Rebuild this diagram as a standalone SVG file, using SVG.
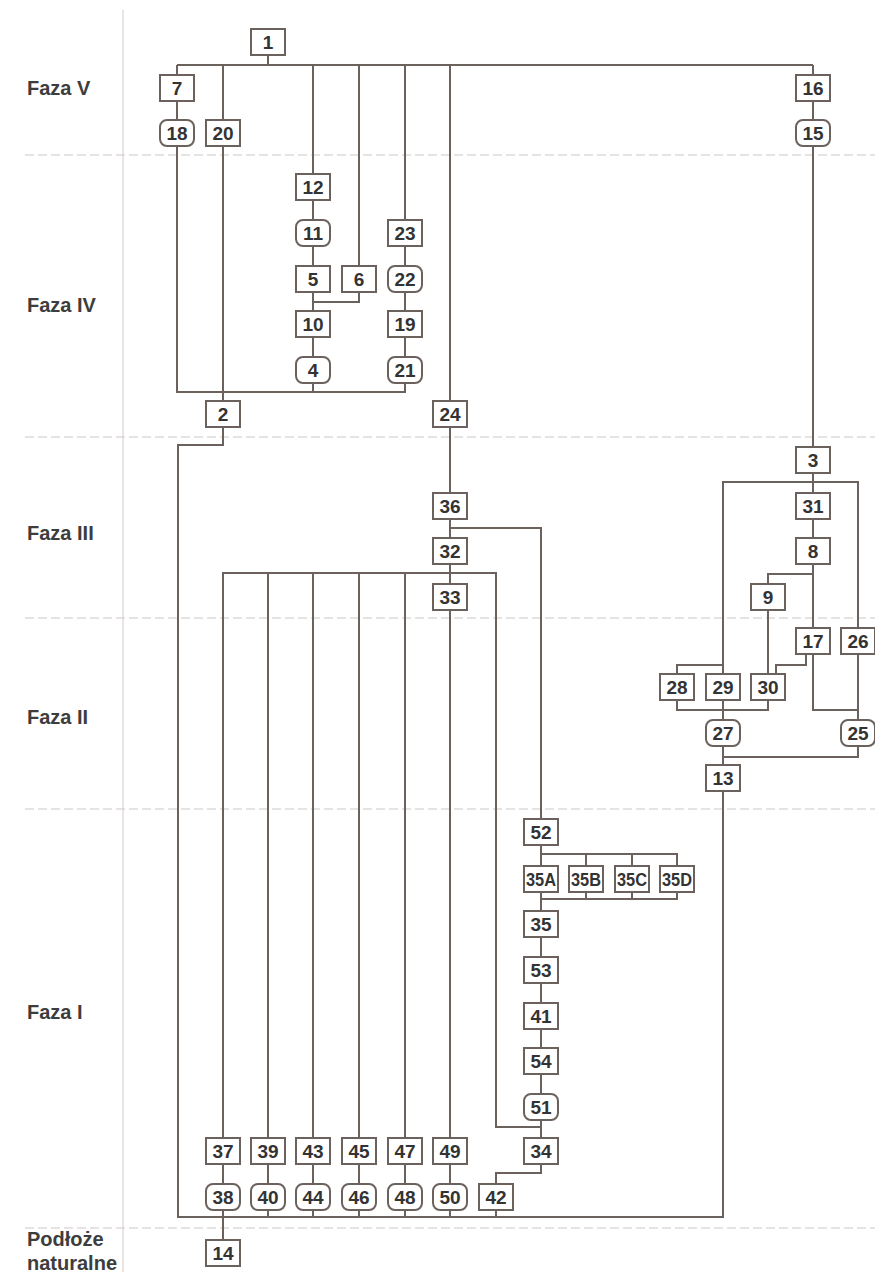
<svg xmlns="http://www.w3.org/2000/svg" width="875" height="1272" viewBox="0 0 875 1272">
<style>
.bg{fill:#fff}
.sep{stroke:#cfc8c8;stroke-width:1.2;stroke-dasharray:9 4;fill:none}
.vsep{stroke:#ddd2d2;stroke-width:1.2;fill:none}
.lbl{font-family:"Liberation Sans",Arial,sans-serif;font-size:20px;font-weight:bold;fill:#3d3d3d}
.node rect{fill:#fff;stroke:#6b625e;stroke-width:2}
.node text{font-family:"Liberation Sans",Arial,sans-serif;font-size:19px;font-weight:bold;fill:#333;text-anchor:middle}
#connectors path{fill:none;stroke:#6b625e;stroke-width:2}
</style>
<rect class="bg" x="0" y="0" width="875" height="1272"/>
<g id="phases">
<line class="vsep" x1="123" y1="10" x2="123" y2="1272"/>
<line class="sep" x1="25" y1="155" x2="875" y2="155"/>
<line class="sep" x1="25" y1="437" x2="875" y2="437"/>
<line class="sep" x1="25" y1="618" x2="875" y2="618"/>
<line class="sep" x1="25" y1="809" x2="875" y2="809"/>
<line class="sep" x1="25" y1="1228" x2="875" y2="1228"/>
<text class="lbl" x="27" y="95">Faza V</text>
<text class="lbl" x="27" y="312">Faza IV</text>
<text class="lbl" x="27" y="540">Faza III</text>
<text class="lbl" x="27" y="724">Faza II</text>
<text class="lbl" x="27" y="1019">Faza I</text>
<text class="lbl" x="27" y="1246">Podłoże</text>
<text class="lbl" x="27" y="1270">naturalne</text>
</g>
<g id="connectors">
<path d="M268 54.5V65"/>
<path d="M177 65H813"/>
<path d="M177 65V75.5"/>
<path d="M177 100.5V120.5"/>
<path d="M177 145.5V392H405V382.5"/>
<path d="M313 382.5V392"/>
<path d="M223 65V120.5"/>
<path d="M223 145.5V401.5"/>
<path d="M223 426.5V445H178V1217H723V790.5"/>
<path d="M313 65V174.5"/>
<path d="M313 199.5V220.5"/>
<path d="M313 245.5V266.5"/>
<path d="M313 291.5V311.5"/>
<path d="M359 291.5V302H313"/>
<path d="M313 336.5V357.5"/>
<path d="M359 65V266.5"/>
<path d="M405 65V220.5"/>
<path d="M405 245.5V266.5"/>
<path d="M405 291.5V311.5"/>
<path d="M405 336.5V357.5"/>
<path d="M450 65V401.5"/>
<path d="M450 426.5V493.5"/>
<path d="M450 518.5V538.5"/>
<path d="M450 528H541V819.5"/>
<path d="M450 563.5V584.5"/>
<path d="M223 1138.5V573H496V1127H541"/>
<path d="M268 573V1138.5"/>
<path d="M313 573V1138.5"/>
<path d="M359 573V1138.5"/>
<path d="M405 573V1138.5"/>
<path d="M450 609.5V1138.5"/>
<path d="M813 65V75.5"/>
<path d="M813 100.5V120.5"/>
<path d="M813 145.5V447.5"/>
<path d="M813 472.5V493.5"/>
<path d="M723 674.5V482H858V628.5"/>
<path d="M813 518.5V538.5"/>
<path d="M813 563.5V628.5"/>
<path d="M813 574H768V584.5"/>
<path d="M768 609.5V674.5"/>
<path d="M677 674.5V665H723"/>
<path d="M806 653.5V665H776V674.5"/>
<path d="M813 653.5V710H858"/>
<path d="M858 653.5V720.5"/>
<path d="M677 699.5V710H768V699.5"/>
<path d="M723 699.5V720.5"/>
<path d="M723 745.5V765.5"/>
<path d="M858 745.5V757H723"/>
<path d="M541 844.5V866.5"/>
<path d="M541 854H677V866.5"/>
<path d="M586 854V866.5"/>
<path d="M632 854V866.5"/>
<path d="M541 891.5V911.5"/>
<path d="M541 899H677V891.5"/>
<path d="M586 891.5V899"/>
<path d="M632 891.5V899"/>
<path d="M541 936.5V957.5"/>
<path d="M541 982.5V1003.5"/>
<path d="M541 1028.5V1048.5"/>
<path d="M541 1073.5V1094.5"/>
<path d="M541 1119.5V1138.5"/>
<path d="M541 1163.5V1173H496V1184.5"/>
<path d="M223 1163.5V1184.5"/>
<path d="M268 1163.5V1184.5"/>
<path d="M313 1163.5V1184.5"/>
<path d="M359 1163.5V1184.5"/>
<path d="M405 1163.5V1184.5"/>
<path d="M450 1163.5V1184.5"/>
<path d="M223 1209.5V1240.5"/>
<path d="M268 1209.5V1217"/>
<path d="M313 1209.5V1217"/>
<path d="M359 1209.5V1217"/>
<path d="M405 1209.5V1217"/>
<path d="M450 1209.5V1217"/>
<path d="M496 1209.5V1217"/>
</g>
<g id="nodes">
<g id="n1" class="node"><rect x="251" y="29" width="34" height="26"/><text x="268" y="49">1</text></g>
<g id="n7" class="node"><rect x="160" y="75" width="34" height="26"/><text x="177" y="95">7</text></g>
<g id="n16" class="node"><rect x="796" y="75" width="34" height="26"/><text x="813" y="95">16</text></g>
<g id="n18" class="node"><rect x="160" y="120" width="34" height="26" rx="7"/><text x="177" y="140">18</text></g>
<g id="n20" class="node"><rect x="206" y="120" width="34" height="26"/><text x="223" y="140">20</text></g>
<g id="n15" class="node"><rect x="796" y="120" width="34" height="26" rx="7"/><text x="813" y="140">15</text></g>
<g id="n12" class="node"><rect x="296" y="174" width="34" height="26"/><text x="313" y="194">12</text></g>
<g id="n11" class="node"><rect x="296" y="220" width="34" height="26" rx="7"/><text x="313" y="240">11</text></g>
<g id="n23" class="node"><rect x="388" y="220" width="34" height="26"/><text x="405" y="240">23</text></g>
<g id="n5" class="node"><rect x="296" y="266" width="34" height="26"/><text x="313" y="286">5</text></g>
<g id="n6" class="node"><rect x="342" y="266" width="34" height="26"/><text x="359" y="286">6</text></g>
<g id="n22" class="node"><rect x="388" y="266" width="34" height="26" rx="7"/><text x="405" y="286">22</text></g>
<g id="n10" class="node"><rect x="296" y="311" width="34" height="26"/><text x="313" y="331">10</text></g>
<g id="n19" class="node"><rect x="388" y="311" width="34" height="26"/><text x="405" y="331">19</text></g>
<g id="n4" class="node"><rect x="296" y="357" width="34" height="26" rx="7"/><text x="313" y="377">4</text></g>
<g id="n21" class="node"><rect x="388" y="357" width="34" height="26" rx="7"/><text x="405" y="377">21</text></g>
<g id="n2" class="node"><rect x="206" y="401" width="34" height="26"/><text x="223" y="421">2</text></g>
<g id="n24" class="node"><rect x="433" y="401" width="34" height="26"/><text x="450" y="421">24</text></g>
<g id="n3" class="node"><rect x="796" y="447" width="34" height="26"/><text x="813" y="467">3</text></g>
<g id="n36" class="node"><rect x="433" y="493" width="34" height="26"/><text x="450" y="513">36</text></g>
<g id="n31" class="node"><rect x="796" y="493" width="34" height="26"/><text x="813" y="513">31</text></g>
<g id="n32" class="node"><rect x="433" y="538" width="34" height="26"/><text x="450" y="558">32</text></g>
<g id="n8" class="node"><rect x="796" y="538" width="34" height="26"/><text x="813" y="558">8</text></g>
<g id="n33" class="node"><rect x="433" y="584" width="34" height="26"/><text x="450" y="604">33</text></g>
<g id="n9" class="node"><rect x="751" y="584" width="34" height="26"/><text x="768" y="604">9</text></g>
<g id="n17" class="node"><rect x="796" y="628" width="34" height="26"/><text x="813" y="648">17</text></g>
<g id="n26" class="node"><rect x="841" y="628" width="34" height="26"/><text x="858" y="648">26</text></g>
<g id="n28" class="node"><rect x="660" y="674" width="34" height="26"/><text x="677" y="694">28</text></g>
<g id="n29" class="node"><rect x="706" y="674" width="34" height="26"/><text x="723" y="694">29</text></g>
<g id="n30" class="node"><rect x="751" y="674" width="34" height="26"/><text x="768" y="694">30</text></g>
<g id="n27" class="node"><rect x="706" y="720" width="34" height="26" rx="7"/><text x="723" y="740">27</text></g>
<g id="n25" class="node"><rect x="841" y="720" width="34" height="26" rx="7"/><text x="858" y="740">25</text></g>
<g id="n13" class="node"><rect x="706" y="765" width="34" height="26"/><text x="723" y="785">13</text></g>
<g id="n52" class="node"><rect x="524" y="819" width="34" height="26"/><text x="541" y="839">52</text></g>
<g id="n35A" class="node"><rect x="524" y="866" width="34" height="26"/><text x="541" y="886" textLength="30" lengthAdjust="spacingAndGlyphs">35A</text></g>
<g id="n35B" class="node"><rect x="569" y="866" width="34" height="26"/><text x="586" y="886" textLength="30" lengthAdjust="spacingAndGlyphs">35B</text></g>
<g id="n35C" class="node"><rect x="615" y="866" width="34" height="26"/><text x="632" y="886" textLength="30" lengthAdjust="spacingAndGlyphs">35C</text></g>
<g id="n35D" class="node"><rect x="660" y="866" width="34" height="26"/><text x="677" y="886" textLength="30" lengthAdjust="spacingAndGlyphs">35D</text></g>
<g id="n35" class="node"><rect x="524" y="911" width="34" height="26"/><text x="541" y="931">35</text></g>
<g id="n53" class="node"><rect x="524" y="957" width="34" height="26"/><text x="541" y="977">53</text></g>
<g id="n41" class="node"><rect x="524" y="1003" width="34" height="26"/><text x="541" y="1023">41</text></g>
<g id="n54" class="node"><rect x="524" y="1048" width="34" height="26"/><text x="541" y="1068">54</text></g>
<g id="n51" class="node"><rect x="524" y="1094" width="34" height="26" rx="7"/><text x="541" y="1114">51</text></g>
<g id="n37" class="node"><rect x="206" y="1138" width="34" height="26"/><text x="223" y="1158">37</text></g>
<g id="n39" class="node"><rect x="251" y="1138" width="34" height="26"/><text x="268" y="1158">39</text></g>
<g id="n43" class="node"><rect x="296" y="1138" width="34" height="26"/><text x="313" y="1158">43</text></g>
<g id="n45" class="node"><rect x="342" y="1138" width="34" height="26"/><text x="359" y="1158">45</text></g>
<g id="n47" class="node"><rect x="388" y="1138" width="34" height="26"/><text x="405" y="1158">47</text></g>
<g id="n49" class="node"><rect x="433" y="1138" width="34" height="26"/><text x="450" y="1158">49</text></g>
<g id="n34" class="node"><rect x="524" y="1138" width="34" height="26"/><text x="541" y="1158">34</text></g>
<g id="n38" class="node"><rect x="206" y="1184" width="34" height="26" rx="7"/><text x="223" y="1204">38</text></g>
<g id="n40" class="node"><rect x="251" y="1184" width="34" height="26" rx="7"/><text x="268" y="1204">40</text></g>
<g id="n44" class="node"><rect x="296" y="1184" width="34" height="26" rx="7"/><text x="313" y="1204">44</text></g>
<g id="n46" class="node"><rect x="342" y="1184" width="34" height="26" rx="7"/><text x="359" y="1204">46</text></g>
<g id="n48" class="node"><rect x="388" y="1184" width="34" height="26" rx="7"/><text x="405" y="1204">48</text></g>
<g id="n50" class="node"><rect x="433" y="1184" width="34" height="26" rx="7"/><text x="450" y="1204">50</text></g>
<g id="n42" class="node"><rect x="479" y="1184" width="34" height="26"/><text x="496" y="1204">42</text></g>
<g id="n14" class="node"><rect x="206" y="1240" width="34" height="26"/><text x="223" y="1260">14</text></g>
</g>
</svg>
